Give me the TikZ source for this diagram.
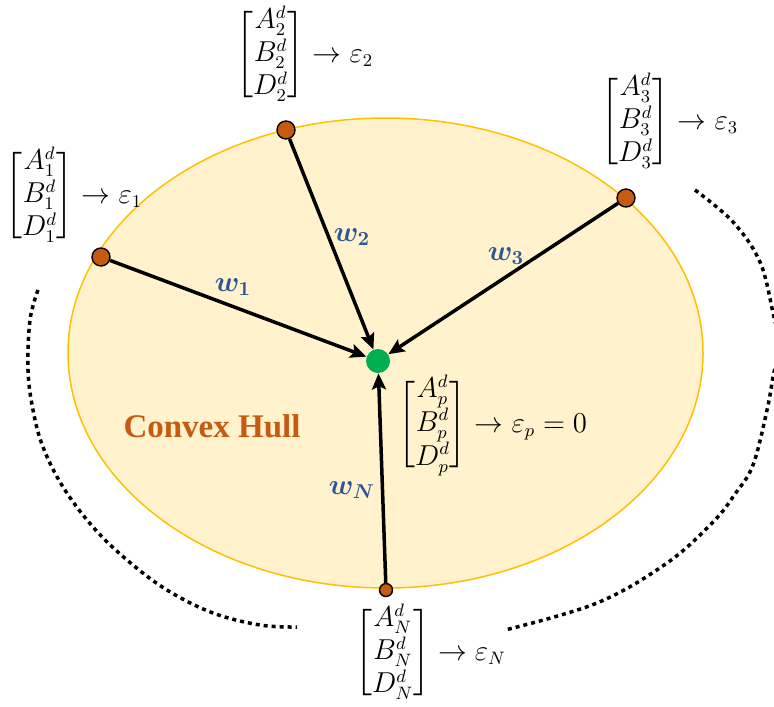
\documentclass[tikz,border=0pt]{standalone}
\usepackage{amsmath,bm}
\usepackage{fontspec}
\newfontfamily\hullfont{Liberation Serif}
\usetikzlibrary{arrows.meta}
\definecolor{hullfill}{HTML}{FFF2CC}
\definecolor{hullline}{HTML}{FFC000}
\definecolor{ptorange}{HTML}{C55A11}
\definecolor{ptgreen}{HTML}{00B050}
\definecolor{wblue}{HTML}{2F5597}
\tikzset{
  vert/.style={circle,fill=ptorange,draw=black,line width=0.7pt,minimum size=9pt,inner sep=0pt},
  vsmall/.style={vert,minimum size=6.5pt},
  target/.style={circle,fill=ptgreen,minimum size=12pt,inner sep=0pt},
  arr/.style={line width=1.75pt,-{Stealth[length=8pt,width=7pt,inset=1.5pt]}},
  wlab/.style={text=wblue,font=\fontsize{14}{16}\selectfont,inner sep=0pt},
  mat/.style={anchor=west,inner sep=0pt,font=\fontsize{13.5}{15.6}\selectfont},
  dotarc/.style={line width=1.75pt,dash pattern=on 2pt off 2pt},
}
\renewcommand{\arraystretch}{1.06}
\delimiterfactor=800
\delimitershortfall=10pt
\begin{document}
\begin{tikzpicture}[x=0.5pt,y=-0.5pt]
\useasboundingbox (0,0) rectangle (774,706);
\clip (0,0) rectangle (774,706);
% hull
\draw[fill=hullfill,draw=hullline,line width=0.75pt] (385.5,353) ellipse [x radius=317.5,y radius=235];
% dotted arcs
\draw[dotarc] plot[smooth,tension=0.6] coordinates {(38,290) (30,320) (28,370) (33,410) (43,447) (63,487) (93,527) (127,560) (167,590) (213,613) (260,625) (297,627)};
\draw[dotarc] plot[smooth,tension=0.6] coordinates {(695,190) (733,222) (760,262) (773,313) (779,345) (773,377) (767,410) (753,465) (735,494) (713,522) (667,563) (597,603) (505,630)};
% points
\node[target] (g) at (378,361) {};
\node[vert] (p1) at (101,257) {};
\node[vert] (p2) at (286,130) {};
\node[vert] (p3) at (626,198) {};
\node[vsmall] (pn) at (386,590) {};
% arrows
\draw[arr] (p1) -- (g);
\draw[arr] (p2) -- (g);
\draw[arr] (p3) -- (g);
\draw[arr] (pn) -- (g);
% weight labels
\node[wlab] (w1) at (233,287) {$\bm{w}_{\bm{1}}$};
\node[wlab] (w2) at (352,237) {$\bm{w}_{\bm{2}}$};
\node[wlab] (w3) at (506,256) {$\bm{w}_{\bm{3}}$};
\node[wlab] (wn) at (352,490) {$\bm{w}_{\bm{N}}$};
% matrices
\node[mat] (m1) at (5,196) {$\begin{bmatrix}A_1^d\\B_1^d\\D_1^d\end{bmatrix}\rightarrow\varepsilon_1$};
\node[mat] (m2) at (236,55) {$\begin{bmatrix}A_2^d\\B_2^d\\D_2^d\end{bmatrix}\rightarrow\varepsilon_2$};
\node[mat] (m3) at (601,122) {$\begin{bmatrix}A_3^d\\B_3^d\\D_3^d\end{bmatrix}\rightarrow\varepsilon_3$};
\node[mat] (mp) at (398,425) {$\begin{bmatrix}A_p^d\\B_p^d\\D_p^d\end{bmatrix}\rightarrow\varepsilon_p=0$};
\node[mat] (mn) at (355,653) {$\begin{bmatrix}A_N^d\\B_N^d\\D_N^d\end{bmatrix}\rightarrow\varepsilon_N$};
% hull label
\node[text=ptorange,font=\hullfont\bfseries\fontsize{16.5}{19}\selectfont,inner sep=0pt] (hull) at (212,426) {Convex Hull};
\end{tikzpicture}
\end{document}
